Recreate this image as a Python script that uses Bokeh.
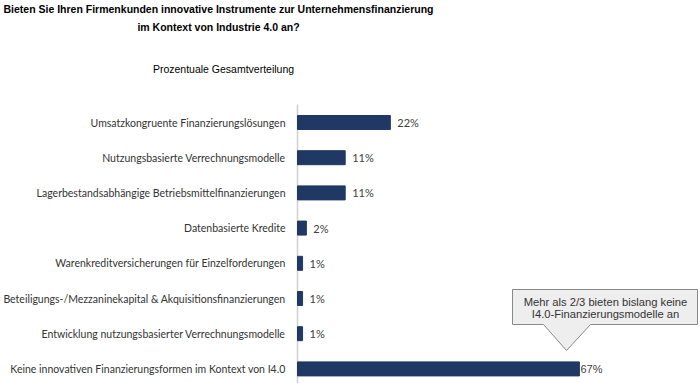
from bokeh.plotting import figure
from bokeh.models import ColumnDataSource, Range1d
from bokeh.core.properties import value
from bokeh.embed import file_html
from bokeh.resources import INLINE

# ---- data ----
categories = [
    "Umsatzkongruente Finanzierungslösungen",
    "Nutzungsbasierte Verrechnungsmodelle",
    "Lagerbestandsabhängige Betriebsmittelfinanzierungen",
    "Datenbasierte Kredite",
    "Warenkreditversicherungen für Einzelforderungen",
    "Beteiligungs-/Mezzaninekapital & Akquisitionsfinanzierungen",
    "Entwicklung nutzungsbasierter Verrechnungsmodelle",
    "Keine innovativen Finanzierungsformen im Kontext von I4.0",
]
values = [22, 11.3, 11.3, 2.1, 1.2, 1.2, 1.2, 66.8]
value_labels = [f"{round(v)}%" for v in values]

title_lines = [
    "Bieten Sie Ihren Firmenkunden innovative Instrumente zur Unternehmensfinanzierung",
    "im Kontext von Industrie 4.0 an?",
]
subtitle = "Prozentuale Gesamtverteilung"
callout_lines = ["Mehr als 2/3 bieten bislang keine", "I4.0-Finanzierungsmodelle an"]

# ---- layout ----
W, H = 700, 383
AXIS_PX = 297
PX_PER_PCT = 4.22
ROW_PX = 35.2
ROW0_PX = 122

x_start = -AXIS_PX / PX_PER_PCT
x_end = (W - AXIS_PX) / PX_PER_PCT
i_top = -ROW0_PX / ROW_PX
i_bottom = (H - ROW0_PX) / ROW_PX


def X(px):
    return x_start + px / PX_PER_PCT


def Y(py):
    return i_top + py / ROW_PX


p = figure(width=W, height=H, output_backend="svg", toolbar_location=None,
           x_range=Range1d(x_start, x_end), y_range=Range1d(i_bottom, i_top),
           min_border=0, tools="")
p.axis.visible = False
p.grid.visible = False
p.outline_line_color = None
p.background_fill_color = "white"
p.border_fill_color = "white"

n = len(categories)
rows = list(range(n))
fonts = ["Lato"] * (n - 1) + ["Liberation Sans"]
offsets = [7] * (n - 1) + [1]
src = ColumnDataSource(dict(y=rows, cat=categories, val=values, lab=value_labels,
                            font=fonts, off=offsets))

# axis line
p.segment(x0=0, y0=Y(104), x1=0, y1=Y(H + 5), line_color="#d0d0d0", line_width=1.5)

p.hbar(y="y", left=0, right="val", height=14 / ROW_PX, source=src,
       fill_color="#1f3864", line_color="#1f3864")

p.text(x=0, y="y", text="cat", source=src, x_offset=-12, text_align="right",
       text_baseline="middle", text_font=value("Lato"), text_font_size="10.5px",
       text_color="#333333")

p.text(x="val", y="y", text="lab", source=src, x_offset="off", text_align="left",
       text_baseline="middle", text_font="font", text_font_size="11px",
       text_color="#404040")

# titles
tfont = value("Liberation Sans")
p.text(x=[X(218)] * 2, y=[Y(8), Y(26)], text=title_lines, text_align="center",
       text_baseline="middle", text_font=tfont, text_font_size="10.5px",
       text_font_style="bold", text_color="#000000")
p.text(x=[X(223)], y=[Y(68)], text=[subtitle], text_align="center",
       text_baseline="middle", text_font=tfont, text_font_size="10.5px",
       text_color="#000000")

# callout
bx0, bx1, by0, by1 = 512, 697, 289, 324
px_shape = [bx0, bx1, bx1, 590, 566, 543, bx0]
py_shape = [by0, by0, by1, by1, 350, by1, by1]
p.patch(x=[X(v) for v in px_shape], y=[Y(v) for v in py_shape],
        fill_color="#eeeeee", line_color="#888888", line_width=1)
p.text(x=[X(605)] * 2, y=[Y(301.5), Y(313)], text=callout_lines, text_align="center",
       text_baseline="middle", text_font=value("Liberation Sans"),
       text_font_size="11.2px", text_color="#333333")

open("out.html", "w").write(file_html(p, INLINE))
